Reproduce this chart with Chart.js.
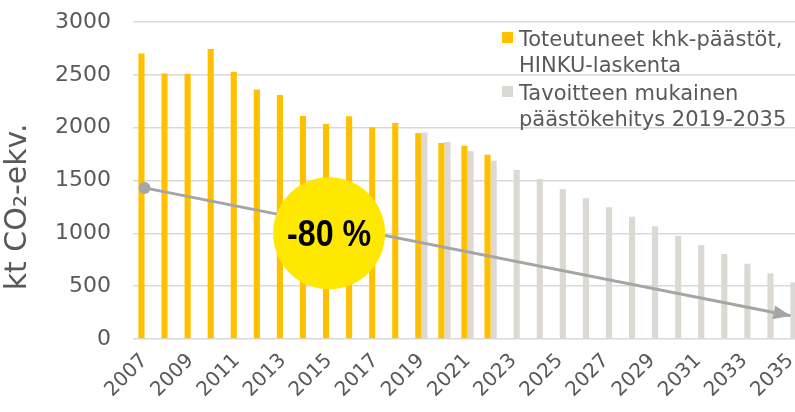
<!DOCTYPE html>
<html>
<head>
<meta charset="utf-8">
<script src="https://cdn.jsdelivr.net/npm/chart.js@4"></script>
<style>
  html, body { margin: 0; padding: 0; background: #fff; overflow: hidden; }
  #wrap { width: 808px; height: 412px; }
</style>
</head>
<body>
<div id="wrap"><canvas id="grafico" width="808" height="412"></canvas></div>
<script>
// Vuodet (x-akseli)
const vuodet = ["2007", "2008", "2009", "2010", "2011", "2012", "2013", "2014", "2015", "2016",
  "2017", "2018", "2019", "2020", "2021", "2022", "2023", "2024", "2025", "2026",
  "2027", "2028", "2029", "2030", "2031", "2032", "2033", "2034", "2035"];

// Toteutuneet päästöt 2007-2022 (kt CO2-ekv.)
const toteutuneet = [2703, 2513, 2510, 2745, 2529, 2362, 2308, 2110, 2034, 2107,
  2003, 2043, 1949, 1854, 1829, 1744, null, null, null, null,
  null, null, null, null, null, null, null, null, null];

// Tavoitteen mukainen kehitys 2019-2035
const tavoite = [null, null, null, null, null, null, null, null, null, null,
  null, null, 1955, 1864, 1776, 1687, 1599, 1514, 1419, 1331,
  1246, 1157, 1066, 974, 889, 804, 712, 621, 536];

// Nuoli: alku- ja loppuarvo
const nuoliAlku = 1430;
const nuoliLoppu = 220;

const yTicks = [0, 500, 1000, 1500, 2000, 2500, 3000];
const yOtsikko = "kt CO₂-ekv.";
const vahennys = "-80 %";
const nimet = ["Toteutuneet khk-päästöt,\nHINKU-laskenta", "Tavoitteen mukainen\npäästökehitys 2019-2035"];

const harmaa = "#595959";
const fontti = "'DejaVu Sans', sans-serif";

const nuoli = vuodet.map((v, i) => i === 0 ? nuoliAlku : (i === vuodet.length - 1 ? nuoliLoppu : null));

// Nuolenkärki, ympyrä, akselin otsikko ja selite
const koristeet = {
  id: "koristeet",
  afterDatasetsDraw(chart) {
    const ctx = chart.ctx;
    const x = chart.scales.x, y = chart.scales.y;

    // nuolenkärki
    const meta = chart.getDatasetMeta(2);
    const p0 = meta.data[0], p1 = meta.data[vuodet.length - 1];
    const kulma = Math.atan2(p1.y - p0.y, p1.x - p0.x);
    ctx.save();
    ctx.fillStyle = "#A5A5A5";
    ctx.translate(p1.x, p1.y);
    ctx.rotate(kulma);
    ctx.beginPath();
    ctx.moveTo(0, 0);
    ctx.lineTo(-17, -7);
    ctx.lineTo(-17, 7);
    ctx.closePath();
    ctx.fill();
    ctx.restore();

    // keltainen ympyrä
    const cx = x.getPixelForValue(8);
    const cy = y.getPixelForValue(1000);
    ctx.save();
    ctx.fillStyle = "#FFE800";
    ctx.beginPath();
    ctx.arc(cx, cy, 56, 0, Math.PI * 2);
    ctx.fill();
    ctx.fillStyle = "#000";
    ctx.font = "bold 37px 'Liberation Sans', sans-serif";
    ctx.textAlign = "center";
    ctx.textBaseline = "middle";
    ctx.translate(cx, cy + 2);
    ctx.scale(0.87, 1);
    ctx.fillText(vahennys, 0, 0);
    ctx.restore();
  },
  afterDraw(chart) {
    const ctx = chart.ctx;
    ctx.save();

    // y-akselin otsikko
    ctx.fillStyle = harmaa;
    ctx.font = "30px " + fontti;
    ctx.textAlign = "center";
    ctx.textBaseline = "middle";
    ctx.translate(18, chart.scales.y.getPixelForValue(1250));
    ctx.rotate(-Math.PI / 2);
    ctx.fillText(yOtsikko, 0, 0);
    ctx.setTransform(1, 0, 0, 1, 0, 0);

    // selite
    ctx.font = "21px " + fontti;
    ctx.textAlign = "left";
    ctx.textBaseline = "alphabetic";
    const lx = 502;
    let ty = 46;
    chart.data.datasets.slice(0, 2).forEach((ds, i) => {
      ctx.fillStyle = ds.backgroundColor;
      ctx.fillRect(lx, ty - 14, 11, 11);
      ctx.fillStyle = harmaa;
      nimet[i].split("\n").forEach((rivi, j) => {
        ctx.fillText(rivi, lx + 17, ty + j * 26);
      });
      ty += 54;
    });
    ctx.restore();
  }
};

new Chart(document.getElementById("grafico"), {
  data: {
    labels: vuodet,
    datasets: [{
      type: "bar",
      label: nimet[0],
      data: toteutuneet,
      backgroundColor: "#FFC000",
      categoryPercentage: 0.53,
      barPercentage: 1.0,
      order: 2
    }, {
      type: "bar",
      label: nimet[1],
      data: tavoite,
      backgroundColor: "#DCD8D4",
      categoryPercentage: 0.53,
      barPercentage: 1.0,
      order: 2
    }, {
      type: "line",
      label: "nuoli",
      data: nuoli,
      spanGaps: true,
      borderColor: "#A5A5A5",
      backgroundColor: "#A5A5A5",
      borderWidth: 3,
      pointRadius: c => c.dataIndex === 0 ? 6 : 0,
      pointBorderWidth: 0,
      pointHoverRadius: 0,
      order: 1
    }]
  },
  options: {
    responsive: false,
    animation: false,
    events: [],
    layout: { padding: { top: 22, right: 0, left: 0, bottom: 0 } },
    plugins: {
      legend: { display: false },
      tooltip: { enabled: false }
    },
    scales: {
      x: {
        grid: { display: false },
        border: { display: false },
        ticks: {
          autoSkip: false,
          maxRotation: 45,
          minRotation: 45,
          color: harmaa,
          font: { family: fontti, size: 20 },
          padding: 2,
          callback: function (v, i) { return i % 2 === 0 ? this.getLabelForValue(v) : ""; }
        },
        afterFit(s) { s.height = 73; s.paddingRight = 0; s.paddingLeft = 0; }
      },
      y: {
        min: 0,
        max: 3000,
        afterBuildTicks(s) { s.ticks = yTicks.map(v => ({ value: v })); },
        grid: { color: "#D9D9D9", lineWidth: 1.5, drawTicks: false },
        border: { display: false },
        ticks: {
          color: harmaa,
          font: { family: fontti, size: 22 },
          padding: 22,
          callback: v => String(v)
        },
        afterFit(s) { s.width = 133; s.paddingTop = 0; s.paddingBottom = 0; }
      }
    }
  },
  plugins: [koristeet]
});
</script>
</body>
</html>
